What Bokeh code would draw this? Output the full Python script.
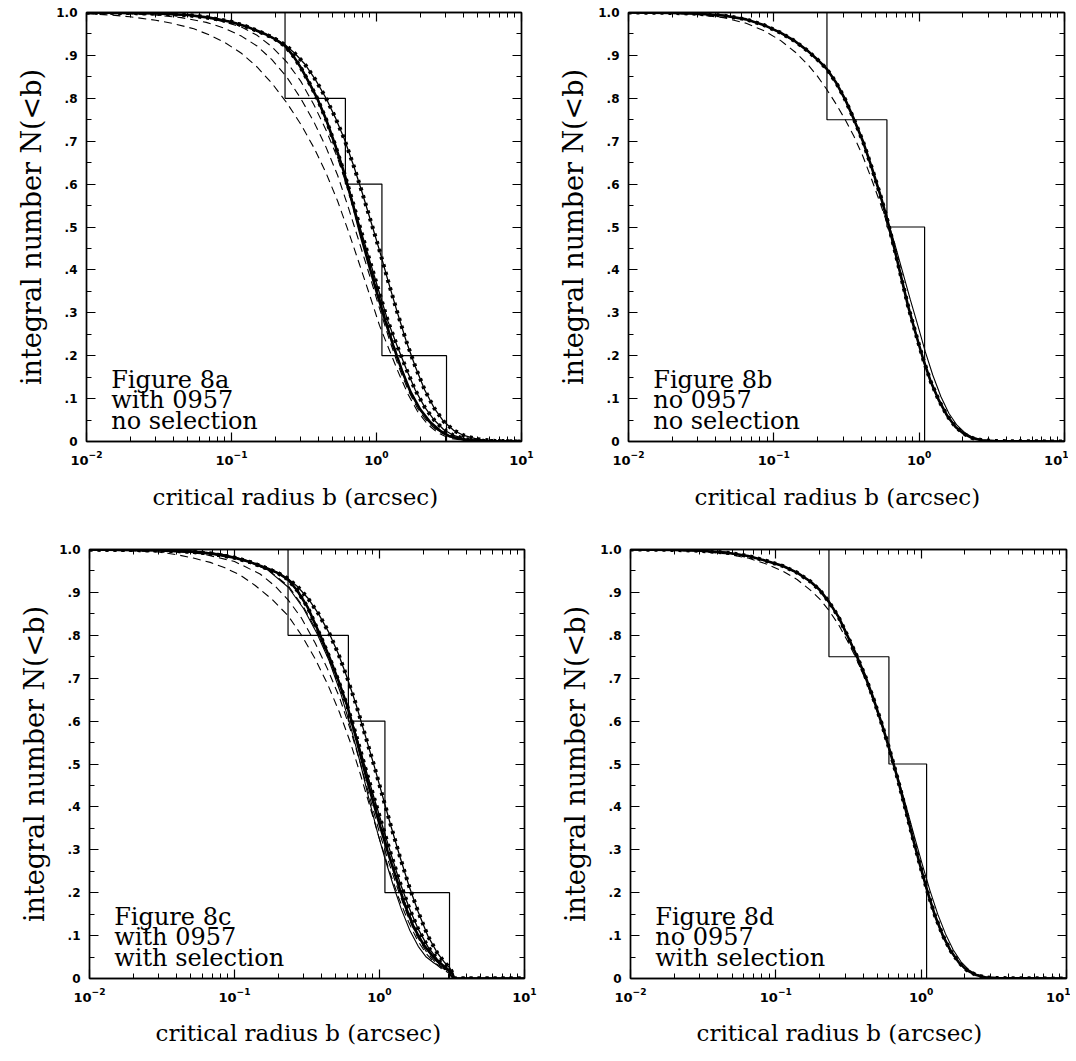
from bokeh.plotting import figure
from bokeh.models import LogAxis, LinearAxis, FixedTicker, Label, Range1d, Title
from bokeh.layouts import column, row
from bokeh.embed import file_html
from bokeh.resources import INLINE

# ---------------- axes ----------------
y_ticks = [0.0, 0.1, 0.2, 0.3, 0.4, 0.5, 0.6, 0.7, 0.8, 0.9, 1.0]
y_tick_labels = ["0", ".1", ".2", ".3", ".4", ".5", ".6", ".7", ".8", ".9", "1.0"]
x_ticks = [0.01, 0.1, 1.0, 10.0]
x_label = "critical radius b (arcsec)"
y_label = "integral number N(<b)"

# ---------------- observed (histograms) ----------------
obs_with_x = [0.01, 0.234, 0.61, 1.09, 3.04]
obs_with_y = [1.0, 0.8, 0.6, 0.2, 0.0]
obs_no_x = [0.01, 0.232, 0.60, 1.09]
obs_no_y = [1.0, 0.75, 0.5, 0.0]

# ---------------- panel a ----------------
a_dot1_x = [0.01, 0.03, 0.05, 0.07, 0.1, 0.13, 0.17, 0.2, 0.234, 0.273, 0.32, 0.38, 0.449, 0.52, 0.60, 0.70, 0.80, 0.92, 1.05, 1.2, 1.38, 1.6, 1.85, 2.15, 2.5, 2.9, 3.4, 4.0, 5.0, 6.5, 10.0]
a_dot1_y = [1.0, 0.998, 0.994, 0.988, 0.978, 0.966, 0.950, 0.938, 0.925, 0.905, 0.880, 0.843, 0.800, 0.755, 0.705, 0.640, 0.578, 0.51, 0.445, 0.375, 0.305, 0.235, 0.175, 0.12, 0.078, 0.047, 0.026, 0.014, 0.005, 0.0015, 0.0]
a_dot2_x = [0.01, 0.03, 0.05, 0.07, 0.1, 0.13, 0.17, 0.2, 0.234, 0.265, 0.30, 0.345, 0.39, 0.45, 0.52, 0.60, 0.69, 0.80, 0.92, 1.05, 1.2, 1.38, 1.6, 1.85, 2.15, 2.5, 2.9, 3.4, 4.2, 5.5, 10.0]
a_dot2_y = [1.0, 0.998, 0.994, 0.988, 0.978, 0.966, 0.950, 0.938, 0.922, 0.90, 0.872, 0.835, 0.800, 0.75, 0.69, 0.625, 0.555, 0.48, 0.41, 0.345, 0.28, 0.225, 0.17, 0.12, 0.08, 0.05, 0.028, 0.014, 0.005, 0.0015, 0.0]
a_thick_x = [0.01, 0.03, 0.05, 0.07, 0.1, 0.13, 0.17, 0.2, 0.234, 0.265, 0.30, 0.345, 0.39, 0.45, 0.52, 0.60, 0.69, 0.78, 0.89, 1.0, 1.14, 1.3, 1.5, 1.72, 2.0, 2.35, 2.75, 3.2, 4.0, 5.5, 10.0]
a_thick_y = [1.0, 0.998, 0.994, 0.988, 0.978, 0.966, 0.950, 0.938, 0.922, 0.90, 0.872, 0.835, 0.800, 0.75, 0.69, 0.625, 0.55, 0.48, 0.41, 0.35, 0.285, 0.225, 0.165, 0.115, 0.075, 0.045, 0.025, 0.012, 0.004, 0.001, 0.0]
a_dash1_x = [0.01, 0.015, 0.02, 0.03, 0.04, 0.055, 0.07, 0.09, 0.117, 0.15, 0.19, 0.24, 0.30, 0.37, 0.45, 0.54, 0.64, 0.76, 0.90, 1.05, 1.22, 1.42, 1.65, 1.92, 2.25, 2.65, 3.2, 4.2, 10.0]
a_dash1_y = [0.997, 0.994, 0.990, 0.982, 0.974, 0.962, 0.948, 0.930, 0.905, 0.873, 0.835, 0.79, 0.74, 0.685, 0.625, 0.56, 0.49, 0.415, 0.34, 0.27, 0.215, 0.16, 0.11, 0.07, 0.04, 0.02, 0.007, 0.002, 0.0]
a_dash2_x = [0.01, 0.02, 0.03, 0.045, 0.067, 0.09, 0.117, 0.15, 0.19, 0.24, 0.30, 0.37, 0.45, 0.54, 0.64, 0.76, 0.90, 1.05, 1.22, 1.42, 1.65, 1.92, 2.25, 2.65, 3.2, 4.2, 10.0]
a_dash2_y = [0.999, 0.997, 0.994, 0.988, 0.977, 0.963, 0.945, 0.922, 0.89, 0.85, 0.80, 0.745, 0.685, 0.62, 0.545, 0.465, 0.385, 0.31, 0.24, 0.175, 0.12, 0.077, 0.045, 0.024, 0.01, 0.003, 0.0]
a_dash3_x = [0.01, 0.02, 0.03, 0.045, 0.067, 0.09, 0.117, 0.15, 0.19, 0.24, 0.30, 0.37, 0.45, 0.54, 0.64, 0.76, 0.90, 1.05, 1.22, 1.42, 1.65, 1.92, 2.25, 2.65, 3.2, 4.2, 10.0]
a_dash3_y = [1.0, 0.999, 0.998, 0.995, 0.988, 0.978, 0.966, 0.947, 0.92, 0.885, 0.84, 0.785, 0.725, 0.66, 0.585, 0.50, 0.415, 0.335, 0.26, 0.19, 0.13, 0.083, 0.049, 0.026, 0.011, 0.003, 0.0]

# ---------------- panel b ----------------
b_main_x = [0.01, 0.02, 0.03, 0.045, 0.0645, 0.085, 0.111, 0.14, 0.172, 0.2, 0.232, 0.27, 0.31, 0.355, 0.41, 0.47, 0.54, 0.60, 0.67, 0.75, 0.84, 0.95, 1.07, 1.2, 1.37, 1.56, 1.78, 2.03, 2.32, 2.7, 3.3, 10.0]
b_main_y = [1.0, 0.999, 0.997, 0.993, 0.984, 0.971, 0.953, 0.933, 0.91, 0.89, 0.868, 0.835, 0.797, 0.752, 0.70, 0.64, 0.575, 0.52, 0.455, 0.385, 0.315, 0.25, 0.19, 0.14, 0.095, 0.06, 0.034, 0.018, 0.008, 0.003, 0.001, 0.0]
b_thin_x = [0.01, 0.02, 0.03, 0.045, 0.0645, 0.085, 0.111, 0.14, 0.172, 0.2, 0.232, 0.27, 0.31, 0.355, 0.41, 0.47, 0.54, 0.60, 0.68, 0.77, 0.87, 0.98, 1.1, 1.24, 1.41, 1.6, 1.82, 2.07, 2.36, 2.75, 3.3, 10.0]
b_thin_y = [1.0, 0.999, 0.997, 0.993, 0.984, 0.971, 0.953, 0.933, 0.91, 0.89, 0.868, 0.835, 0.797, 0.752, 0.70, 0.64, 0.575, 0.52, 0.46, 0.395, 0.33, 0.27, 0.21, 0.155, 0.105, 0.066, 0.038, 0.02, 0.009, 0.003, 0.001, 0.0]
b_dash_x = [0.01, 0.02, 0.03, 0.045, 0.0645, 0.085, 0.111, 0.14, 0.172, 0.2, 0.232, 0.27, 0.31, 0.355, 0.41, 0.47, 0.54, 0.60, 0.67, 0.75, 0.84, 0.95, 1.07, 1.2, 1.37, 1.56, 1.78, 2.03, 2.32, 2.7, 3.3, 10.0]
b_dash_y = [1.0, 0.998, 0.995, 0.988, 0.975, 0.958, 0.935, 0.908, 0.878, 0.851, 0.82, 0.785, 0.75, 0.712, 0.665, 0.612, 0.555, 0.51, 0.45, 0.383, 0.315, 0.25, 0.19, 0.14, 0.095, 0.06, 0.034, 0.018, 0.008, 0.003, 0.001, 0.0]

# ---------------- panel c ----------------
c_dot1_x = [0.01, 0.03, 0.05, 0.07, 0.1, 0.13, 0.17, 0.2, 0.234, 0.273, 0.32, 0.38, 0.45, 0.52, 0.60, 0.69, 0.80, 0.92, 1.05, 1.2, 1.38, 1.6, 1.85, 2.15, 2.5, 2.8, 3.05, 3.2, 3.3, 10.0]
c_dot1_y = [1.0, 0.998, 0.995, 0.99, 0.981, 0.97, 0.955, 0.945, 0.932, 0.913, 0.887, 0.85, 0.805, 0.757, 0.70, 0.638, 0.565, 0.495, 0.425, 0.355, 0.285, 0.215, 0.155, 0.10, 0.06, 0.038, 0.025, 0.012, 0.0, 0.0]
c_dot2_x = [0.01, 0.03, 0.05, 0.07, 0.1, 0.13, 0.17, 0.2, 0.234, 0.27, 0.32, 0.39, 0.45, 0.52, 0.60, 0.69, 0.80, 0.92, 1.05, 1.2, 1.38, 1.6, 1.85, 2.15, 2.5, 2.8, 3.05, 3.2, 3.27, 10.0]
c_dot2_y = [1.0, 0.998, 0.995, 0.99, 0.981, 0.97, 0.955, 0.945, 0.93, 0.905, 0.865, 0.80, 0.75, 0.695, 0.635, 0.567, 0.49, 0.42, 0.355, 0.29, 0.225, 0.165, 0.115, 0.075, 0.045, 0.028, 0.018, 0.008, 0.0, 0.0]
c_thick_x = [0.01, 0.03, 0.05, 0.07, 0.1, 0.13, 0.17, 0.2, 0.234, 0.27, 0.32, 0.39, 0.45, 0.52, 0.60, 0.69, 0.78, 0.89, 1.0, 1.14, 1.3, 1.5, 1.72, 2.0, 2.35, 2.7, 3.0, 3.2, 3.25, 10.0]
c_thick_y = [1.0, 0.998, 0.995, 0.99, 0.981, 0.97, 0.955, 0.945, 0.93, 0.905, 0.865, 0.80, 0.75, 0.695, 0.635, 0.56, 0.49, 0.42, 0.36, 0.295, 0.235, 0.17, 0.12, 0.08, 0.05, 0.032, 0.02, 0.01, 0.0, 0.0]
c_thin_x = [0.01, 0.03, 0.05, 0.08, 0.12, 0.17, 0.235, 0.30, 0.37, 0.45, 0.54, 0.64, 0.74, 0.85, 0.97, 1.1, 1.25, 1.42, 1.62, 1.85, 2.1, 2.4, 2.7, 2.95, 3.1, 3.2, 10.0]
c_thin_y = [1.0, 0.999, 0.997, 0.99, 0.975, 0.952, 0.912, 0.862, 0.805, 0.74, 0.665, 0.58, 0.50, 0.415, 0.34, 0.275, 0.215, 0.16, 0.112, 0.075, 0.05, 0.035, 0.028, 0.02, 0.01, 0.0, 0.0]
c_dash1_x = [0.01, 0.02, 0.03, 0.04, 0.052, 0.068, 0.085, 0.11, 0.139, 0.18, 0.235, 0.29, 0.36, 0.44, 0.53, 0.63, 0.74, 0.86, 1.0, 1.16, 1.35, 1.57, 1.82, 2.1, 2.4, 2.7, 3.0, 3.2, 10.0]
c_dash1_y = [0.999, 0.997, 0.994, 0.988, 0.98, 0.97, 0.958, 0.94, 0.916, 0.885, 0.845, 0.80, 0.745, 0.685, 0.62, 0.55, 0.475, 0.40, 0.325, 0.255, 0.19, 0.135, 0.09, 0.058, 0.036, 0.022, 0.013, 0.0, 0.0]
c_dash2_x = [0.01, 0.03, 0.06, 0.1, 0.15, 0.19, 0.235, 0.29, 0.36, 0.44, 0.53, 0.63, 0.74, 0.86, 1.0, 1.16, 1.35, 1.57, 1.82, 2.1, 2.4, 2.7, 3.0, 3.2, 10.0]
c_dash2_y = [1.0, 0.998, 0.99, 0.972, 0.943, 0.915, 0.882, 0.84, 0.782, 0.72, 0.655, 0.58, 0.50, 0.42, 0.34, 0.27, 0.205, 0.145, 0.098, 0.063, 0.04, 0.025, 0.015, 0.0, 0.0]
c_dash3_x = [0.01, 0.03, 0.05, 0.08, 0.12, 0.17, 0.235, 0.30, 0.37, 0.45, 0.54, 0.64, 0.75, 0.88, 1.02, 1.18, 1.36, 1.57, 1.82, 2.1, 2.4, 2.7, 3.0, 3.2, 10.0]
c_dash3_y = [1.0, 0.999, 0.997, 0.99, 0.975, 0.953, 0.915, 0.865, 0.81, 0.748, 0.68, 0.605, 0.525, 0.44, 0.36, 0.285, 0.218, 0.158, 0.107, 0.07, 0.044, 0.027, 0.016, 0.0, 0.0]

# ---------------- panel d ----------------
d_main_x = [0.01, 0.02, 0.03, 0.045, 0.0645, 0.085, 0.111, 0.14, 0.172, 0.2, 0.232, 0.27, 0.31, 0.355, 0.41, 0.47, 0.54, 0.61, 0.69, 0.78, 0.88, 0.99, 1.11, 1.25, 1.41, 1.6, 1.82, 2.07, 2.36, 2.75, 3.3, 10.0]
d_main_y = [1.0, 0.999, 0.997, 0.993, 0.985, 0.974, 0.962, 0.946, 0.926, 0.906, 0.878, 0.843, 0.80, 0.757, 0.707, 0.652, 0.59, 0.53, 0.465, 0.395, 0.325, 0.26, 0.2, 0.145, 0.1, 0.064, 0.037, 0.019, 0.009, 0.003, 0.001, 0.0]
d_thin_x = [0.01, 0.02, 0.03, 0.045, 0.0645, 0.085, 0.111, 0.14, 0.172, 0.2, 0.232, 0.27, 0.31, 0.355, 0.41, 0.47, 0.54, 0.61, 0.69, 0.79, 0.90, 1.02, 1.15, 1.3, 1.47, 1.66, 1.88, 2.13, 2.42, 2.8, 3.3, 10.0]
d_thin_y = [1.0, 0.999, 0.997, 0.993, 0.985, 0.974, 0.962, 0.946, 0.926, 0.906, 0.878, 0.843, 0.80, 0.757, 0.707, 0.652, 0.59, 0.53, 0.47, 0.40, 0.33, 0.265, 0.205, 0.15, 0.104, 0.067, 0.039, 0.02, 0.009, 0.003, 0.001, 0.0]
d_dash_x = [0.01, 0.02, 0.03, 0.045, 0.0645, 0.085, 0.111, 0.14, 0.172, 0.2, 0.232, 0.27, 0.31, 0.355, 0.41, 0.47, 0.54, 0.61, 0.69, 0.78, 0.88, 0.99, 1.11, 1.25, 1.41, 1.6, 1.82, 2.07, 2.36, 2.75, 3.3, 10.0]
d_dash_y = [1.0, 0.998, 0.996, 0.99, 0.98, 0.967, 0.95, 0.93, 0.906, 0.885, 0.858, 0.825, 0.788, 0.748, 0.70, 0.647, 0.588, 0.528, 0.463, 0.393, 0.323, 0.258, 0.198, 0.143, 0.098, 0.062, 0.036, 0.018, 0.008, 0.003, 0.001, 0.0]

a_text = ["Figure 8a", "with 0957", "no selection"]
b_text = ["Figure 8b", "no 0957", "no selection"]
c_text = ["Figure 8c", "with 0957", "with selection"]
d_text = ["Figure 8d", "no 0957", "with selection"]
text_y = [0.144, 0.096, 0.047]

SERIF = "DejaVu Serif"
x_minor = [k * 10.0 ** e for e in (-2, -1, 0) for k in range(2, 10)]
y_minor = [i / 20 for i in range(1, 20, 2)]


def style_axis(ax, labels, label_size="23px", tick_size="12px"):
    ax.major_tick_in = 9
    ax.major_tick_out = 0
    ax.minor_tick_in = 5
    ax.minor_tick_out = 0
    ax.axis_line_color = "black"
    ax.axis_line_width = 1.4
    ax.major_tick_line_color = "black"
    ax.minor_tick_line_color = "black"
    ax.major_tick_line_width = 1.2
    ax.minor_tick_line_width = 1.0
    if labels:
        ax.major_label_text_font = "DejaVu Sans"
        ax.major_label_text_font_style = "bold"
        ax.major_label_text_font_size = tick_size
        ax.major_label_text_color = "black"
        ax.axis_label_text_font = SERIF
        ax.axis_label_text_font_style = "normal"
        ax.axis_label_text_font_size = label_size
        ax.axis_label_text_color = "black"
    else:
        ax.major_label_text_font_size = "1px"
        ax.major_label_text_alpha = 0.0
        ax.major_label_standoff = 0


def make_panel(fw, bl, br, bt, bb, title_standoff, obs_x, obs_y, dotted, thick, thin, dashed, text):
    p = figure(x_axis_type="log", x_range=Range1d(0.01, 10.0), y_range=Range1d(0.0, 1.0),
               frame_width=fw, frame_height=429,
               min_border_left=bl, min_border_right=br, min_border_top=bt, min_border_bottom=bb,
               output_backend="svg", toolbar_location=None)
    p.xgrid.visible = False
    p.ygrid.visible = False
    p.outline_line_color = "black"
    p.outline_line_width = 1.4
    p.background_fill_color = "white"
    p.border_fill_color = "white"

    xa = p.xaxis[0]
    xa.ticker = FixedTicker(ticks=x_ticks, minor_ticks=x_minor)
    xa.major_label_standoff = 9
    style_axis(xa, True, "23px", "13px")

    # x title below the axis, a little left of the frame centre as in the original
    p.add_layout(Title(text=x_label, align="left", offset=66, standoff=title_standoff,
                       text_font=SERIF, text_font_size="23px", text_font_style="normal",
                       text_color="black"), "below")

    ya = p.yaxis[0]
    ya.ticker = FixedTicker(ticks=y_ticks, minor_ticks=y_minor)
    ya.major_label_overrides = dict(zip(y_ticks, y_tick_labels))
    ya.axis_label = y_label
    ya.major_label_standoff = 9
    ya.axis_label_standoff = 6
    style_axis(ya, True, "27px", "12px")

    top = LogAxis(ticker=FixedTicker(ticks=x_ticks, minor_ticks=x_minor))
    style_axis(top, False)
    p.add_layout(top, "above")
    right = LinearAxis(ticker=FixedTicker(ticks=y_ticks, minor_ticks=y_minor))
    style_axis(right, False)
    p.add_layout(right, "right")

    # observed histogram
    p.step(obs_x, obs_y, mode="after", line_color="black", line_width=1.2)

    for (xs, ys) in dashed:
        p.line(xs, ys, line_color="black", line_width=1.1, line_dash="8 5")
    for (xs, ys) in thin:
        p.line(xs, ys, line_color="black", line_width=1.1)
    for (xs, ys) in thick:
        p.line(xs, ys, line_color="black", line_width=2.6)
    for (xs, ys) in dotted:
        p.line(xs, ys, line_color="black", line_width=1.3)
        p.line(xs, ys, line_color="black", line_width=4, line_dash="3 5", line_cap="butt")

    for t, ty in zip(text, text_y):
        p.add_layout(Label(x=0.0148, y=ty, text=t, text_font=SERIF, text_font_size="24px",
                           text_color="black", text_baseline="alphabetic", text_align="left"))
    return p


pa = make_panel(435, 86, 29, 12, 96, 28, obs_with_x, obs_with_y,
                dotted=[(a_dot1_x, a_dot1_y), (a_dot2_x, a_dot2_y)],
                thick=[(a_thick_x, a_thick_y)], thin=[],
                dashed=[(a_dash1_x, a_dash1_y), (a_dash2_x, a_dash2_y), (a_dash3_x, a_dash3_y)],
                text=a_text)
pb = make_panel(436, 78, 4, 12, 96, 28, obs_no_x, obs_no_y,
                dotted=[(b_main_x, b_main_y)],
                thick=[(b_main_x, b_main_y)], thin=[(b_thin_x, b_thin_y)],
                dashed=[(b_dash_x, b_dash_y)],
                text=b_text)
pc = make_panel(435, 89, 28, 12, 80, 26, obs_with_x, obs_with_y,
                dotted=[(c_dot1_x, c_dot1_y), (c_dot2_x, c_dot2_y)],
                thick=[(c_thick_x, c_thick_y)], thin=[(c_thin_x, c_thin_y)],
                dashed=[(c_dash1_x, c_dash1_y), (c_dash2_x, c_dash2_y), (c_dash3_x, c_dash3_y)],
                text=c_text)
pd_ = make_panel(436, 78, 4, 12, 80, 26, obs_no_x, obs_no_y,
                 dotted=[(d_main_x, d_main_y)],
                 thick=[(d_main_x, d_main_y)], thin=[(d_thin_x, d_thin_y)],
                 dashed=[(d_dash_x, d_dash_y)],
                 text=d_text)

layout = column(row(pa, pb), row(pc, pd_))
open("out.html", "w").write(file_html(layout, INLINE))
